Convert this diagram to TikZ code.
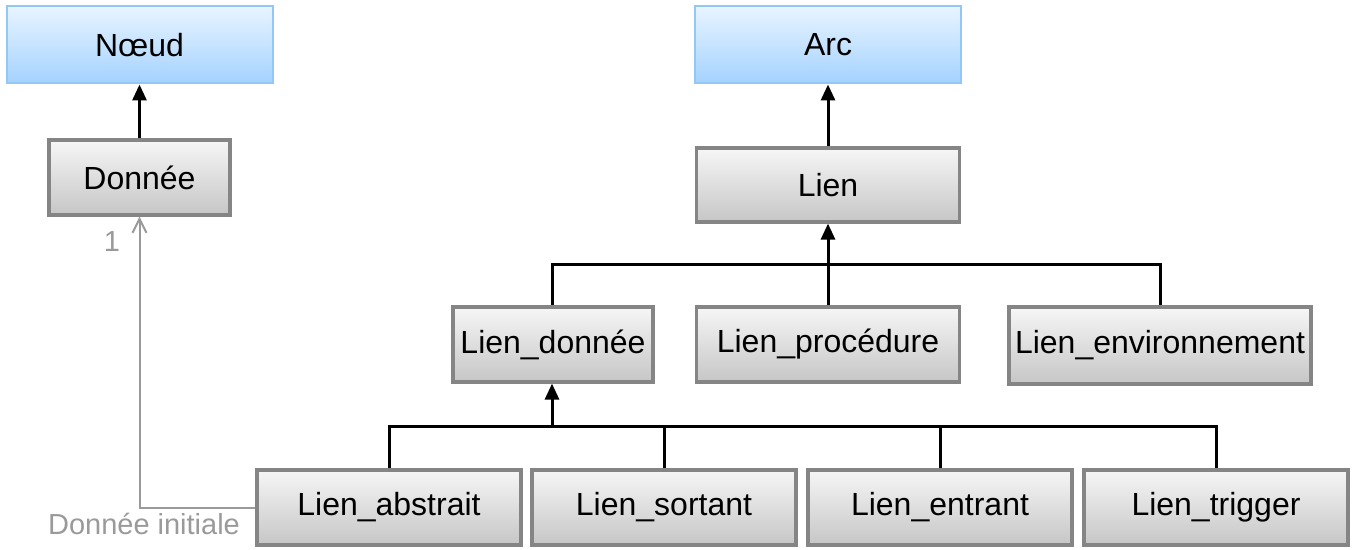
\documentclass[tikz,border=0pt]{standalone}
\usepackage{fontspec}
\setmainfont{Liberation Sans}
\usetikzlibrary{arrows.meta}
\definecolor{boxborder}{HTML}{858585}
\definecolor{boxtop}{HTML}{F6F6F6}
\definecolor{boxbot}{HTML}{C6C6C6}
\definecolor{bluetop}{HTML}{E8F4FF}
\definecolor{bluebot}{HTML}{A4D2FF}
\definecolor{blueborder}{HTML}{92C8F5}
\definecolor{assoc}{HTML}{9A9A9A}
\tikzset{
  cls/.style={draw=boxborder, line width=1.6pt, top color=boxtop, bottom color=boxbot,
    inner sep=0pt, font=\fontsize{16}{19}\selectfont, text=black},
  abs/.style={draw=blueborder, line width=1pt, top color=bluetop, bottom color=bluebot,
    inner sep=0pt, font=\fontsize{16}{19}\selectfont, text=black},
  inh/.style={line width=1.5pt, black},
  inharrow/.style={inh, -{Triangle[length=8pt,width=7pt]}},
  assocarrow/.style={draw=assoc, line width=1pt, -{Straight Barb[length=7pt,width=7pt,line width=1pt]}},
  lbl/.style={text=assoc, font=\fontsize{14.5}{17}\selectfont, inner sep=0pt}
}
\begin{document}
\begin{tikzpicture}[x=0.5pt,y=-0.5pt]
\useasboundingbox (0,0) rectangle (1354,550);
% abstract classes
\node[abs, minimum width=133pt, minimum height=38.5pt] (noeud) at (139.5,45) {Nœud};
\node[abs, minimum width=133pt, minimum height=38.5pt] (arc) at (828,45) {Arc};
% classes
\node[cls, minimum width=90.5pt, minimum height=37.5pt] (donnee) at (139.5,177.5) {Donnée};
\node[cls, minimum width=131.5pt, minimum height=37pt] (lien) at (828,185) {Lien};
\node[cls, minimum width=100pt, minimum height=37.5pt] (ldonnee) at (553,344.5) {Lien\_donnée};
\node[cls, minimum width=131.5pt, minimum height=37.5pt] (lproc) at (828,344.5) {Lien\_procédure};
\node[cls, minimum width=151pt, minimum height=38.5pt] (lenv) at (1160,345.5) {Lien\_environnement};
\node[cls, minimum width=132pt, minimum height=37.5pt] (labs) at (389,507.5) {Lien\_abstrait};
\node[cls, minimum width=132pt, minimum height=37.5pt] (lsort) at (664,507.5) {Lien\_sortant};
\node[cls, minimum width=132pt, minimum height=37.5pt] (lent) at (940,507.5) {Lien\_entrant};
\node[cls, minimum width=132pt, minimum height=37.5pt] (ltrig) at (1216,507.5) {Lien\_trigger};
% inheritance
\draw[inharrow] (donnee.north) -- (noeud.south);
\draw[inharrow] (lien.north) -- (arc.south);
\coordinate (bar1) at (828,265);
\draw[inh] (ldonnee.north -| 552,0) |- (bar1) -| (lenv.north);
\draw[inharrow] (lproc.north) -- (lien.south);
\coordinate (bar2) at (552,427);
\draw[inh] (labs.north) |- (bar2) -| (ltrig.north);
\draw[inh] (lsort.north) -- (lsort.north |- bar2);
\draw[inh] (lent.north) -- (lent.north |- bar2);
\draw[inharrow] (bar2) -- (bar2 |- ldonnee.south);
% association
\draw[assocarrow] (labs.west) -| (donnee.south);
\node[lbl] (mult) at (112,242) {1};
\node[lbl] (role) at (144,524) {Donnée initiale};
\end{tikzpicture}
\end{document}
